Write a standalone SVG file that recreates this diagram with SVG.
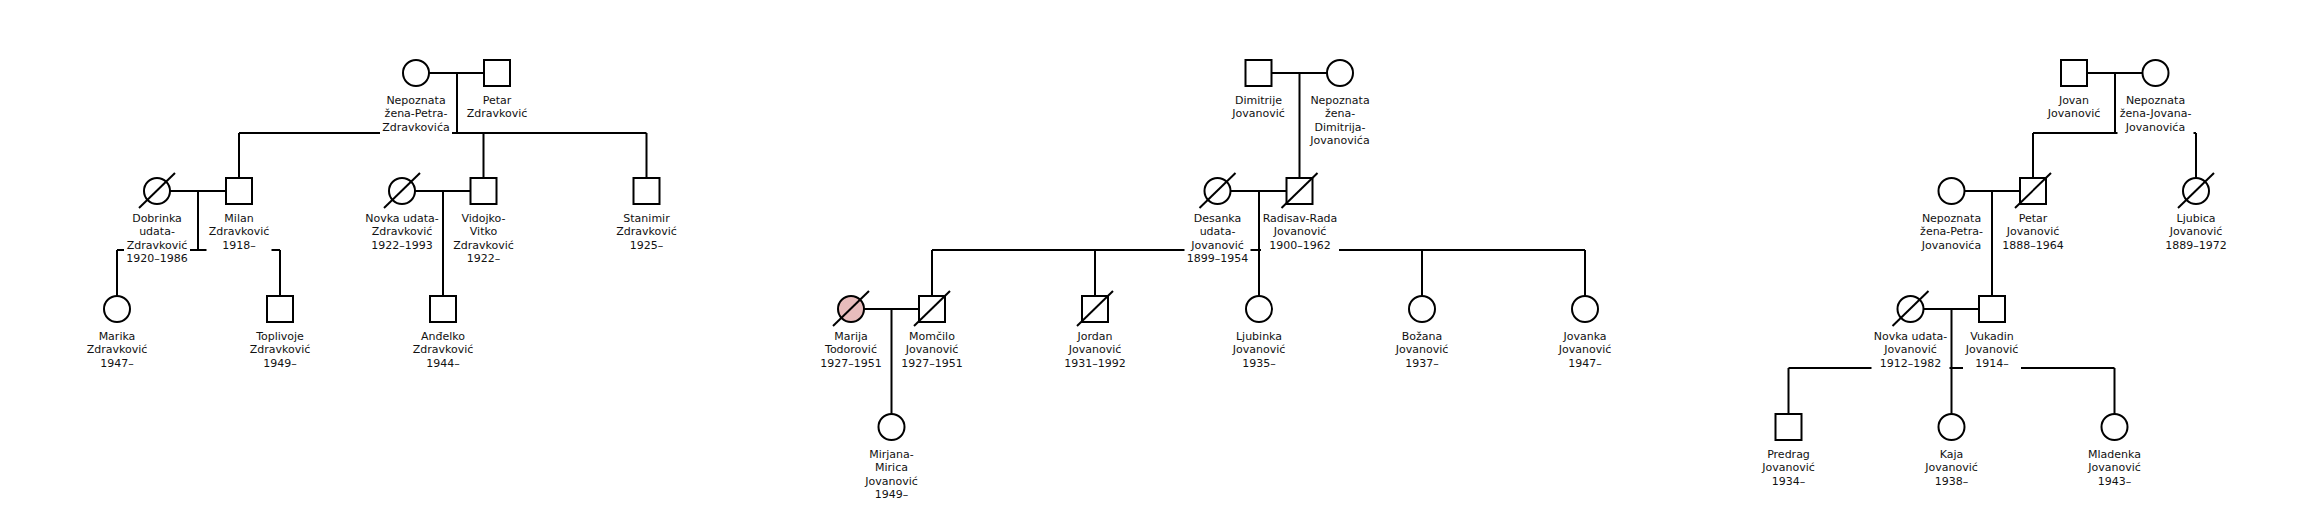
<svg xmlns="http://www.w3.org/2000/svg" width="2313" height="516" viewBox="0 0 2313 516">
<style>
.ln{stroke:#000;stroke-width:2;fill:none}
.sh{fill:#fff;stroke:#000;stroke-width:2}
.pk{fill:#e8bcbc;stroke:#000;stroke-width:2}
.sl{stroke:#000;stroke-width:2}
.bg{fill:#fff}
.lb{font-family:"DejaVu Sans","Noto Sans",sans-serif;font-size:11px;fill:#111;text-anchor:middle}
</style>
<rect width="2313" height="516" fill="#fff"/>
<g id="connectors">
<!-- family 1 -->
<path class="ln" d="M429 73H484M457 73V133M239 133H646.5M239 133V178M483.5 133V178M646.5 133V178"/>
<path class="ln" d="M170 191H226M198 191V250M117 250H280M117 250V296M280 250V296"/>
<path class="ln" d="M415 191H470.5M443 191V296"/>
<!-- family 2 -->
<path class="ln" d="M1271.5 73H1327M1299.5 73V178"/>
<path class="ln" d="M1230.5 191H1286.5M1259 191V296M932 250H1585M932 250V296M1095 250V296M1422 250V296M1585 250V296"/>
<path class="ln" d="M864 309H919M891.5 309V414"/>
<!-- family 3 -->
<path class="ln" d="M2087 73H2142.5M2115 73V133M2033 133H2196M2033 133V178M2196 133V178"/>
<path class="ln" d="M1964.5 191H2020M1992 191V296"/>
<path class="ln" d="M1923.5 309H1979M1951.5 309V414M1788.5 368H2114.5M1788.5 368V414M2114.5 368V414"/>
</g>

<!-- ===== Family 1 ===== -->
<g id="nepoznata-zena-petra-zdravkovica">
<circle class="sh" cx="416" cy="73" r="13"/>
<rect class="bg" x="380" y="93" width="72" height="42"/>
<text class="lb" y="103.5"><tspan x="416">Nepoznata</tspan><tspan x="416" dy="13.6">žena-Petra-</tspan><tspan x="416" dy="13.6">Zdravkovića</tspan></text>
</g>
<g id="petar-zdravkovic">
<rect class="sh" x="484" y="60" width="26" height="26"/>
<rect class="bg" x="464.5" y="93" width="65" height="28"/>
<text class="lb" y="103.5"><tspan x="497">Petar</tspan><tspan x="497" dy="13.6">Zdravković</tspan></text>
</g>
<g id="dobrinka">
<circle class="sh" cx="157" cy="191" r="13"/>
<line class="sl" x1="139" y1="208" x2="175" y2="173"/>
<rect class="bg" x="124" y="211" width="66" height="56"/>
<text class="lb" y="221.5"><tspan x="157">Dobrinka</tspan><tspan x="157" dy="13.6">udata-</tspan><tspan x="157" dy="13.6">Zdravković</tspan><tspan x="157" dy="13.6">1920–1986</tspan></text>
</g>
<g id="milan">
<rect class="sh" x="226" y="178" width="26" height="26"/>
<rect class="bg" x="206.5" y="211" width="65" height="42"/>
<text class="lb" y="221.5"><tspan x="239">Milan</tspan><tspan x="239" dy="13.6">Zdravković</tspan><tspan x="239" dy="13.6">1918–</tspan></text>
</g>
<g id="novka-zdravkovic">
<circle class="sh" cx="402" cy="191" r="13"/>
<line class="sl" x1="384" y1="208" x2="420" y2="173"/>
<rect class="bg" x="364" y="211" width="76.5" height="42"/>
<text class="lb" y="221.5"><tspan x="402">Novka udata-</tspan><tspan x="402" dy="13.6">Zdravković</tspan><tspan x="402" dy="13.6">1922–1993</tspan></text>
</g>
<g id="vidojko">
<rect class="sh" x="470.5" y="178" width="26" height="26"/>
<rect class="bg" x="451" y="211" width="65" height="56"/>
<text class="lb" y="221.5"><tspan x="483.5">Vidojko-</tspan><tspan x="483.5" dy="13.6">Vitko</tspan><tspan x="483.5" dy="13.6">Zdravković</tspan><tspan x="483.5" dy="13.6">1922–</tspan></text>
</g>
<g id="stanimir">
<rect class="sh" x="633.5" y="178" width="26" height="26"/>
<rect class="bg" x="614" y="211" width="65" height="42"/>
<text class="lb" y="221.5"><tspan x="646.5">Stanimir</tspan><tspan x="646.5" dy="13.6">Zdravković</tspan><tspan x="646.5" dy="13.6">1925–</tspan></text>
</g>
<g id="marika">
<circle class="sh" cx="117" cy="309" r="13"/>
<rect class="bg" x="84.5" y="329" width="65" height="42"/>
<text class="lb" y="339.5"><tspan x="117">Marika</tspan><tspan x="117" dy="13.6">Zdravković</tspan><tspan x="117" dy="13.6">1947–</tspan></text>
</g>
<g id="toplivoje">
<rect class="sh" x="267" y="296" width="26" height="26"/>
<rect class="bg" x="247.5" y="329" width="65" height="42"/>
<text class="lb" y="339.5"><tspan x="280">Toplivoje</tspan><tspan x="280" dy="13.6">Zdravković</tspan><tspan x="280" dy="13.6">1949–</tspan></text>
</g>
<g id="andjelko">
<rect class="sh" x="430" y="296" width="26" height="26"/>
<rect class="bg" x="410.5" y="329" width="65" height="42"/>
<text class="lb" y="339.5"><tspan x="443">Anđelko</tspan><tspan x="443" dy="13.6">Zdravković</tspan><tspan x="443" dy="13.6">1944–</tspan></text>
</g>

<!-- ===== Family 2 ===== -->
<g id="dimitrije">
<rect class="sh" x="1245.5" y="60" width="26" height="26"/>
<rect class="bg" x="1230" y="93" width="57" height="28"/>
<text class="lb" y="103.5"><tspan x="1258.5">Dimitrije</tspan><tspan x="1258.5" dy="13.6">Jovanović</tspan></text>
</g>
<g id="nepoznata-zena-dimitrija">
<circle class="sh" cx="1340" cy="73" r="13"/>
<rect class="bg" x="1305" y="93" width="70" height="56"/>
<text class="lb" y="103.5"><tspan x="1340">Nepoznata</tspan><tspan x="1340" dy="13.6">žena-</tspan><tspan x="1340" dy="13.6">Dimitrija-</tspan><tspan x="1340" dy="13.6">Jovanovića</tspan></text>
</g>
<g id="desanka">
<circle class="sh" cx="1217.5" cy="191" r="13"/>
<line class="sl" x1="1199.5" y1="208" x2="1235.5" y2="173"/>
<rect class="bg" x="1184.5" y="211" width="66" height="56"/>
<text class="lb" y="221.5"><tspan x="1217.5">Desanka</tspan><tspan x="1217.5" dy="13.6">udata-</tspan><tspan x="1217.5" dy="13.6">Jovanović</tspan><tspan x="1217.5" dy="13.6">1899–1954</tspan></text>
</g>
<g id="radisav">
<rect class="sh" x="1286.5" y="178" width="26" height="26"/>
<line class="sl" x1="1281.5" y1="208" x2="1317.5" y2="173"/>
<rect class="bg" x="1261" y="211" width="78" height="42"/>
<text class="lb" y="221.5"><tspan x="1300">Radisav-Rada</tspan><tspan x="1300" dy="13.6">Jovanović</tspan><tspan x="1300" dy="13.6">1900–1962</tspan></text>
</g>
<g id="marija">
<circle class="pk" cx="851" cy="309" r="13"/>
<line class="sl" x1="833" y1="326" x2="869" y2="291"/>
<rect class="bg" x="818" y="329" width="66" height="42"/>
<text class="lb" y="339.5"><tspan x="851">Marija</tspan><tspan x="851" dy="13.6">Todorović</tspan><tspan x="851" dy="13.6">1927–1951</tspan></text>
</g>
<g id="momcilo">
<rect class="sh" x="919" y="296" width="26" height="26"/>
<line class="sl" x1="914" y1="326" x2="950" y2="291"/>
<rect class="bg" x="899" y="329" width="66" height="42"/>
<text class="lb" y="339.5"><tspan x="932">Momčilo</tspan><tspan x="932" dy="13.6">Jovanović</tspan><tspan x="932" dy="13.6">1927–1951</tspan></text>
</g>
<g id="jordan">
<rect class="sh" x="1082" y="296" width="26" height="26"/>
<line class="sl" x1="1077" y1="326" x2="1113" y2="291"/>
<rect class="bg" x="1062" y="329" width="66" height="42"/>
<text class="lb" y="339.5"><tspan x="1095">Jordan</tspan><tspan x="1095" dy="13.6">Jovanović</tspan><tspan x="1095" dy="13.6">1931–1992</tspan></text>
</g>
<g id="ljubinka">
<circle class="sh" cx="1259" cy="309" r="13"/>
<rect class="bg" x="1230.5" y="329" width="57" height="42"/>
<text class="lb" y="339.5"><tspan x="1259">Ljubinka</tspan><tspan x="1259" dy="13.6">Jovanović</tspan><tspan x="1259" dy="13.6">1935–</tspan></text>
</g>
<g id="bozana">
<circle class="sh" cx="1422" cy="309" r="13"/>
<rect class="bg" x="1393.5" y="329" width="57" height="42"/>
<text class="lb" y="339.5"><tspan x="1422">Božana</tspan><tspan x="1422" dy="13.6">Jovanović</tspan><tspan x="1422" dy="13.6">1937–</tspan></text>
</g>
<g id="jovanka">
<circle class="sh" cx="1585" cy="309" r="13"/>
<rect class="bg" x="1556.5" y="329" width="57" height="42"/>
<text class="lb" y="339.5"><tspan x="1585">Jovanka</tspan><tspan x="1585" dy="13.6">Jovanović</tspan><tspan x="1585" dy="13.6">1947–</tspan></text>
</g>
<g id="mirjana">
<circle class="sh" cx="891.5" cy="427" r="13"/>
<rect class="bg" x="863" y="447" width="57" height="56"/>
<text class="lb" y="457.5"><tspan x="891.5">Mirjana-</tspan><tspan x="891.5" dy="13.6">Mirica</tspan><tspan x="891.5" dy="13.6">Jovanović</tspan><tspan x="891.5" dy="13.6">1949–</tspan></text>
</g>

<!-- ===== Family 3 ===== -->
<g id="jovan">
<rect class="sh" x="2061" y="60" width="26" height="26"/>
<rect class="bg" x="2045.5" y="93" width="57" height="28"/>
<text class="lb" y="103.5"><tspan x="2074">Jovan</tspan><tspan x="2074" dy="13.6">Jovanović</tspan></text>
</g>
<g id="nepoznata-zena-jovana">
<circle class="sh" cx="2155.5" cy="73" r="13"/>
<rect class="bg" x="2117.5" y="93" width="76" height="42"/>
<text class="lb" y="103.5"><tspan x="2155.5">Nepoznata</tspan><tspan x="2155.5" dy="13.6">žena-Jovana-</tspan><tspan x="2155.5" dy="13.6">Jovanovića</tspan></text>
</g>
<g id="nepoznata-zena-petra-jovanovica">
<circle class="sh" cx="1951.5" cy="191" r="13"/>
<rect class="bg" x="1916.5" y="211" width="70" height="42"/>
<text class="lb" y="221.5"><tspan x="1951.5">Nepoznata</tspan><tspan x="1951.5" dy="13.6">žena-Petra-</tspan><tspan x="1951.5" dy="13.6">Jovanovića</tspan></text>
</g>
<g id="petar-jovanovic">
<rect class="sh" x="2020" y="178" width="26" height="26"/>
<line class="sl" x1="2015" y1="208" x2="2051" y2="173"/>
<rect class="bg" x="2000" y="211" width="66" height="42"/>
<text class="lb" y="221.5"><tspan x="2033">Petar</tspan><tspan x="2033" dy="13.6">Jovanović</tspan><tspan x="2033" dy="13.6">1888–1964</tspan></text>
</g>
<g id="ljubica">
<circle class="sh" cx="2196" cy="191" r="13"/>
<line class="sl" x1="2178" y1="208" x2="2214" y2="173"/>
<rect class="bg" x="2163" y="211" width="66" height="42"/>
<text class="lb" y="221.5"><tspan x="2196">Ljubica</tspan><tspan x="2196" dy="13.6">Jovanović</tspan><tspan x="2196" dy="13.6">1889–1972</tspan></text>
</g>
<g id="novka-jovanovic">
<circle class="sh" cx="1910.5" cy="309" r="13"/>
<line class="sl" x1="1892.5" y1="326" x2="1928.5" y2="291"/>
<rect class="bg" x="1871.5" y="329" width="78" height="42"/>
<text class="lb" y="339.5"><tspan x="1910.5">Novka udata-</tspan><tspan x="1910.5" dy="13.6">Jovanović</tspan><tspan x="1910.5" dy="13.6">1912–1982</tspan></text>
</g>
<g id="vukadin">
<rect class="sh" x="1979" y="296" width="26" height="26"/>
<rect class="bg" x="1963" y="329" width="58" height="42"/>
<text class="lb" y="339.5"><tspan x="1992">Vukadin</tspan><tspan x="1992" dy="13.6">Jovanović</tspan><tspan x="1992" dy="13.6">1914–</tspan></text>
</g>
<g id="predrag">
<rect class="sh" x="1775.5" y="414" width="26" height="26"/>
<rect class="bg" x="1760" y="447" width="57" height="42"/>
<text class="lb" y="457.5"><tspan x="1788.5">Predrag</tspan><tspan x="1788.5" dy="13.6">Jovanović</tspan><tspan x="1788.5" dy="13.6">1934–</tspan></text>
</g>
<g id="kaja">
<circle class="sh" cx="1951.5" cy="427" r="13"/>
<rect class="bg" x="1923" y="447" width="57" height="42"/>
<text class="lb" y="457.5"><tspan x="1951.5">Kaja</tspan><tspan x="1951.5" dy="13.6">Jovanović</tspan><tspan x="1951.5" dy="13.6">1938–</tspan></text>
</g>
<g id="mladenka">
<circle class="sh" cx="2114.5" cy="427" r="13"/>
<rect class="bg" x="2086" y="447" width="57" height="42"/>
<text class="lb" y="457.5"><tspan x="2114.5">Mladenka</tspan><tspan x="2114.5" dy="13.6">Jovanović</tspan><tspan x="2114.5" dy="13.6">1943–</tspan></text>
</g>
</svg>
